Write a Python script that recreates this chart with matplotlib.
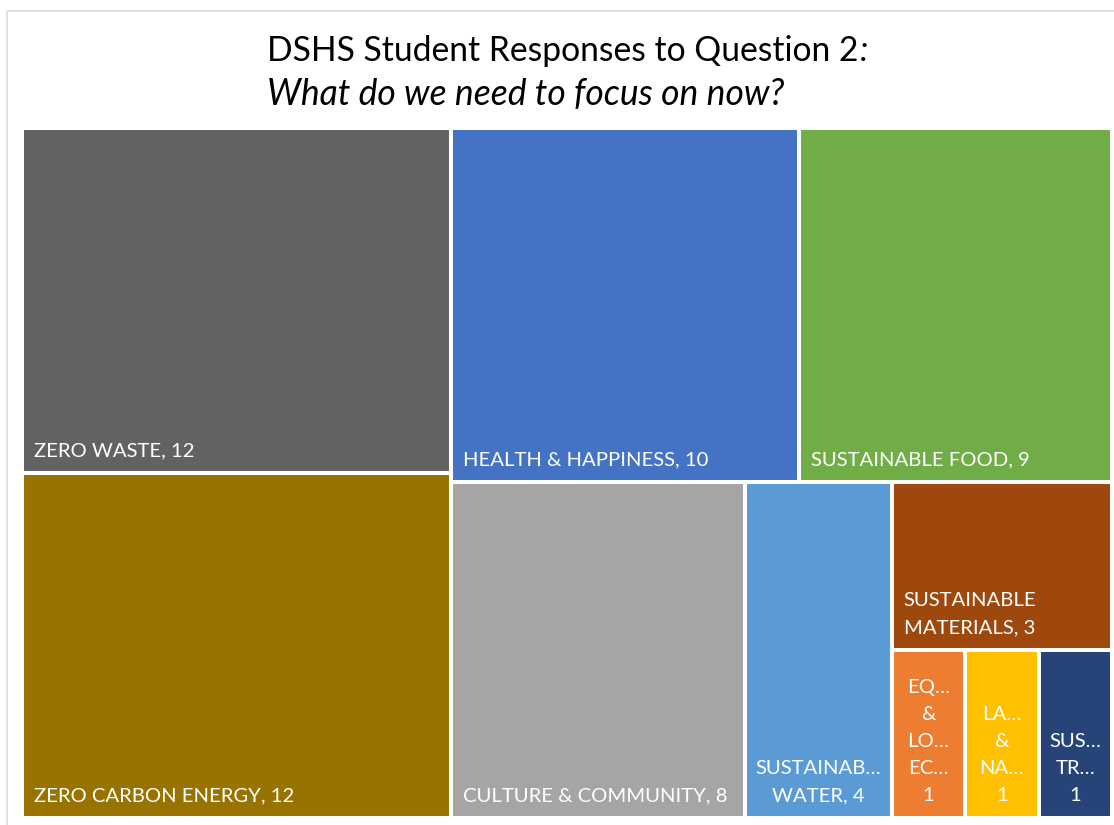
import numpy as np
import matplotlib
matplotlib.use('Agg')
import matplotlib.pyplot as plt
from matplotlib.patches import Rectangle

plt.rcParams['font.family'] = ['Lato', 'DejaVu Sans']

# -----------------------
# Data
# -----------------------
labels = ['ZERO WASTE, 12', 'ZERO CARBON ENERGY, 12', 'HEALTH & HAPPINESS, 10',
          'SUSTAINABLE FOOD, 9', 'CULTURE & COMMUNITY, 8', 'SUSTAINAB\u2026\nWATER, 4',
          'SUSTAINABLE\nMATERIALS, 3', 'EQ\u2026\n&\nLO\u2026\nEC\u2026\n1',
          'LA\u2026\n&\nNA\u2026\n1', 'SUS\u2026\nTR\u2026\n1']
values = [12, 12, 10, 9, 8, 4, 3, 1, 1, 1]
colors = ['#626262', '#997300', '#4472C4', '#70AD47', '#A5A5A5', '#5B9BD5',
          '#9E480E', '#ED7D31', '#FFC000', '#264478']
label_align = ['left', 'left', 'left', 'left', 'left', 'center', 'left',
               'center', 'center', 'center']

# nested split structure ('h' = side by side, 'v' = stacked), leaves are indices
tree = ('h', [('v', [0, 1]),
              ('v', [('h', [2, 3]),
                     ('h', [4, 5, ('v', [6, ('h', [7, 8, 9])])])])])


def node_sum(node):
    if isinstance(node, int):
        return values[node]
    return sum(node_sum(c) for c in node[1])


def layout(node, x, y, w, h, out):
    if isinstance(node, int):
        out[node] = (x, y, w, h)
        return
    direction, children = node
    total = node_sum(node)
    pos = 0.0
    for c in children:
        frac = node_sum(c) / total
        if direction == 'h':
            layout(c, x + pos * w, y, frac * w, h, out)
        else:
            layout(c, x, y + pos * h, w, frac * h, out)
        pos += frac


W, H = 1090.0, 690.0
rects = {}
layout(tree, 0, 0, W, H, rects)

# -----------------------
# Figure
# -----------------------
FW, FH = 1114, 825
fig = plt.figure(figsize=(FW / 100, FH / 100), dpi=100)
fig.patches.append(Rectangle((7 / FW, 1 - 11 / FH), 2, -2, transform=fig.transFigure,
                             facecolor='none', edgecolor='#d9d9d9', linewidth=1.2))

left, top = 22, 128
ax = fig.add_axes([left / FW, 1 - (top + H) / FH, W / FW, H / FH])
ax.set_xlim(0, W)
ax.set_ylim(H, 0)
ax.axis('off')

fs = 14.6
for i in range(len(values)):
    x, y, w, h = rects[i]
    ax.add_patch(Rectangle((x, y), w, h, facecolor=colors[i], edgecolor='white',
                           linewidth=2.9))
    if label_align[i] == 'left':
        ax.text(x + 12, y + h - 14, labels[i], color='white', fontsize=fs,
                ha='left', va='bottom', linespacing=1.72, multialignment='left')
    else:
        ax.text(x + w / 2, y + h - 14, labels[i], color='white', fontsize=fs,
                ha='center', va='bottom', linespacing=1.72, multialignment='center')

# title: left aligned two lines, block centred over the plot
line1 = fig.text(0, 0, 'DSHS Student Responses to Question 2', fontsize=24.2)
colon = fig.text(0, 0, ':', fontsize=24.2, style='italic')
line2 = fig.text(0, 0, 'What do we need to focus on now?', fontsize=25.6, style='italic')
fig.canvas.draw()
r = fig.canvas.get_renderer()
w1 = line1.get_window_extent(r).width
wc = colon.get_window_extent(r).width
x0 = (left + W / 2) - (w1 + wc) / 2
line1.set_position((x0 / FW, 1 - 61 / FH))
colon.set_position(((x0 + w1 + 1) / FW, 1 - 61 / FH))
line2.set_position((x0 / FW, 1 - 105 / FH))

fig.savefig('out.png', dpi=100)
